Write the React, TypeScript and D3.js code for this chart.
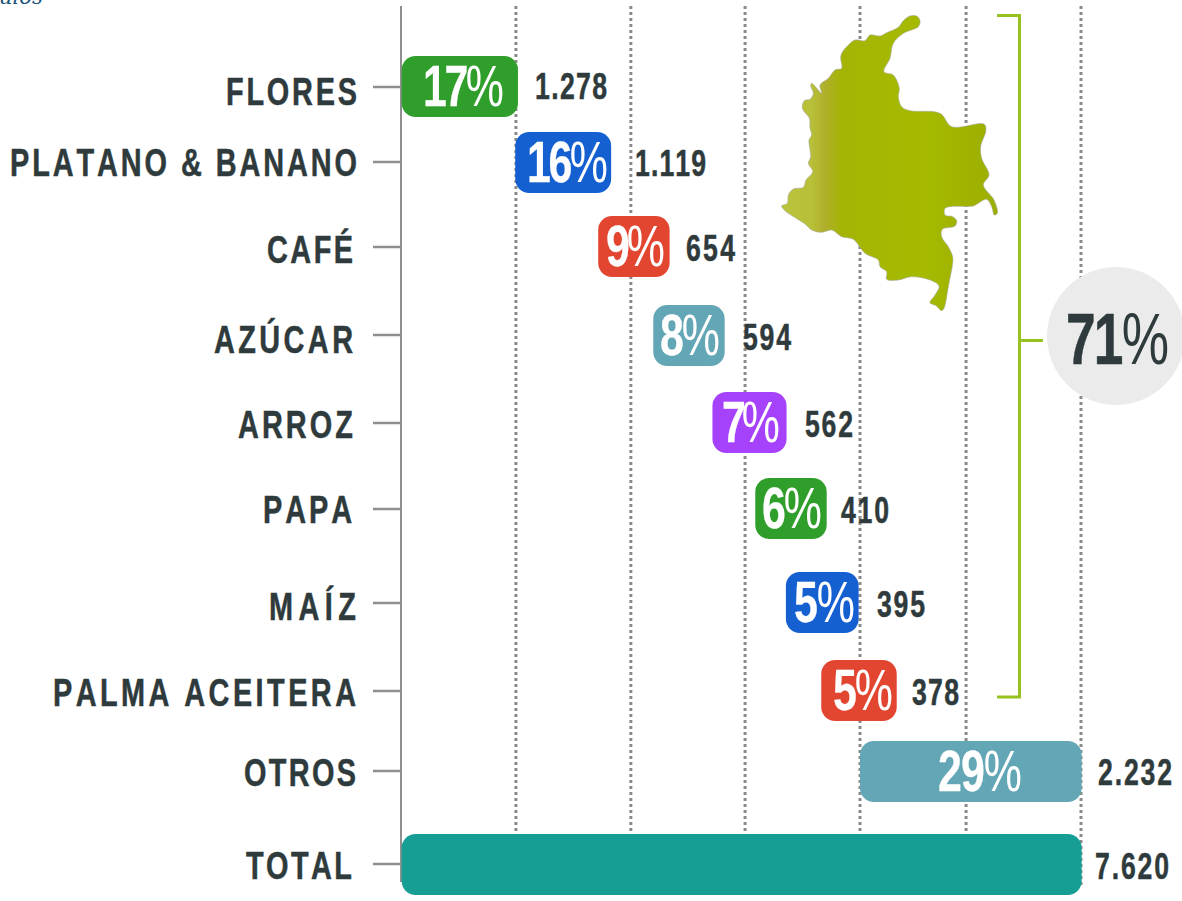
import React from "react";
import * as d3 from "d3";

// ---------- data ----------
const categories = ["FLORES", "PLATANO & BANANO", "CAFÉ", "AZÚCAR", "ARROZ", "PAPA", "MAÍZ", "PALMA ACEITERA", "OTROS", "TOTAL"];
const valueLabels = ["1.278", "1.119", "654", "594", "562", "410", "395", "378", "2.232", "7.620"];
const shareLabels = ["17%", "16%", "9%", "8%", "7%", "6%", "5%", "5%", "29%", ""];
// bar extents, in percent of the total
const barStart = [0.1, 16.8, 29, 37.1, 45.8, 52.1, 56.6, 61.8, 67.5, 0.1];
const barEnd = [17.2, 30.9, 39.5, 47.6, 56.7, 62.6, 67.3, 72.9, 100.1, 100.1];
const gridTicks = [16.9, 33.8, 50.6, 67.5, 83.1, 100];
const groupShare = "71%";

// ---------- styling and layout ----------
const barColors = ["#2f9e2a", "#1560d0", "#e24530", "#63a6b5", "#a742fc", "#2f9e2a", "#1560d0", "#e24530", "#63a6b5", "#169e95"];
const rowCenters = [87, 162, 247, 335, 423, 509, 603, 691, 771, 864];
const labelMid = [91, 162, 249, 339, 424, 509, 606, 692, 772, 865];
const labelLeft = [226, 10, 267, 214, 238, 263, 269, 53, 244, 246];
const labelRight = [357, 357, 353, 353, 353, 352, 356, 356, 356, 352];
const barTop = [56, 132, 216, 305, 392, 478, 572, 660, 741, 834];
const shareLeft = [423, 527, 606, 660, 722, 762, 794, 833, 938, 0];
const shareRight = [504, 608, 665, 720, 780, 822, 855, 893, 1022, 0];
const valueLeft = [535, 635, 686, 743, 805, 841, 877, 912, 1098, 1095];
const valueRight = [607, 706, 735, 791, 853, 889, 925, 959, 1172, 1169];
const valueMid = [86, 163, 248, 337, 424, 510, 604, 692, 772, 866];
const DARK = "#2e3a3b";
const FONT = "'Liberation Sans Narrow', 'Liberation Sans', sans-serif";

// outline of the map, in picture units of a 3x frame
const mapOutline: [number, number][] = [
  [450, 62], [440, 48], [420, 48], [400, 62], [385, 82], [350, 98], [330, 108], [300, 105], [285, 122], [255, 120],
  [235, 135], [215, 160], [212, 175], [215, 205], [195, 210], [175, 235], [150, 255], [155, 280], [125, 250], [122, 258],
  [130, 280], [120, 298], [103, 302], [97, 325], [118, 355], [120, 385], [125, 405], [117, 420], [122, 470], [115, 490],
  [128, 515], [108, 540], [100, 562], [70, 567], [55, 585], [52, 610], [35, 618], [45, 632], [105, 672], [125, 690],
  [155, 697], [185, 690], [215, 710], [250, 718], [285, 760], [325, 780], [330, 800], [350, 815], [350, 838], [385, 840],
  [425, 830], [480, 840], [507, 858], [495, 885], [480, 908], [498, 917], [515, 932], [522, 925], [535, 860], [548, 790], [548, 770], [535, 740], [515, 710], [517, 688],
  [555, 678], [560, 662], [548, 650], [525, 645], [525, 625], [540, 620], [610, 618], [620, 613], [650, 598], [665, 620],
  [673, 645], [682, 640], [672, 600], [640, 555], [657, 525], [635, 475], [632, 440], [648, 390], [642, 372], [545, 380],
  [510, 340], [420, 332], [395, 320], [385, 290], [388, 265], [370, 225], [342, 215], [360, 175], [370, 130], [400, 100],
  [445, 80],
];

const x = d3.scaleLinear().domain([0, 100]).range([401, 1081]);
const y = d3.scaleOrdinal<string, number>().domain(categories).range(rowCenters);
const mapX = d3.scaleLinear().domain([0, 240 * 3]).range([770, 1010]);
const mapY = d3.scaleLinear().domain([0, 320 * 3]).range([0, 320]);
const mapPath = d3.line<[number, number]>().x((d) => mapX(d[0])).y((d) => mapY(d[1])).curve(d3.curveCatmullRomClosed.alpha(0.5))(mapOutline) ?? "";

// Condensed text: glyphs are squeezed by `squeeze` and spaced out to fill left..right
function Fit({ left, right, mid, size, fill, text, squeeze = 0.76, bold = 0.5 }: any) {
  const isShare = text.endsWith("%");
  return (
    <text
      transform={`translate(${left},${mid + size * 0.36}) scale(${squeeze},1)`}
      x={0}
      y={0}
      textLength={(right - left) / squeeze}
      lengthAdjust="spacing"
      fontFamily={FONT}
      fontWeight={700}
      fontSize={size}
      fill={fill}
      stroke={fill}
      strokeWidth={bold}
      style={{ fontKerning: "none" }}
    >
      {isShare ? text.slice(0, -1) : text}
      {isShare && <tspan fontWeight={400} strokeWidth={0}>%</tspan>}
    </text>
  );
}

export default function App() {
  return (
    <svg
      width={1182}
      height={901}
      viewBox="0 0 1182 901"
      style={{ position: "absolute", left: 0, top: 0, background: "#fff" }}
    >
      <defs>
        <linearGradient id="mapFill" gradientUnits="userSpaceOnUse" x1={781} x2={998} y1={0} y2={0}>
          <stop offset="0" stopColor="#b9c53c" />
          <stop offset="0.14" stopColor="#b8bf38" />
          <stop offset="0.2" stopColor="#afb02c" />
          <stop offset="0.28" stopColor="#a4b404" />
          <stop offset="0.65" stopColor="#a5ba00" />
          <stop offset="1" stopColor="#9cae00" />
        </linearGradient>
      </defs>

      <text x={-1} y={4} fontFamily="'DejaVu Serif', serif" fontStyle="italic" fontSize={21} fill="#15537a">
        ulos
      </text>

      {gridTicks.map((t) => (
        <line key={t} x1={x(t)} x2={x(t)} y1={6} y2={t === 100 ? 886 : 836} stroke="#8a8a8a" strokeWidth={3} strokeDasharray="3 3" />
      ))}
      <line x1={x(0)} x2={x(0)} y1={6} y2={882} stroke="#8f8f8f" strokeWidth={2} />

      <path d={mapPath} fill="url(#mapFill)" stroke="#a9a9a0" strokeWidth={0.6} />

      {categories.map((c, i) => (
        <g key={c}>
          <line x1={373} x2={x(0)} y1={y(c)} y2={y(c)} stroke="#8f8f8f" strokeWidth={2.5} />
          <Fit left={labelLeft[i]} right={labelRight[i]} mid={labelMid[i]} size={38} fill={DARK} text={c} />
          <rect
            x={x(barStart[i])}
            y={barTop[i]}
            width={x(barEnd[i]) - x(barStart[i])}
            height={61}
            rx={14}
            fill={barColors[i]}
          />
          {shareLabels[i] && (
            <Fit left={shareLeft[i]} right={shareRight[i]} mid={barTop[i] + 29} size={58} fill="#fff" squeeze={0.74} bold={0.3} text={shareLabels[i]} />
          )}
          <Fit left={valueLeft[i]} right={valueRight[i]} mid={valueMid[i]} size={37} fill={DARK} squeeze={0.72} text={valueLabels[i]} />
        </g>
      ))}

      <path d="M997,15.5H1019.5V697H997M1019.5,340.5H1043" fill="none" stroke="#97c11f" strokeWidth={3} />
      <circle cx={1116} cy={336} r={69} fill="#ebebeb" />
      <Fit left={1066} right={1169} mid={338} size={72} fill={DARK} squeeze={0.74} bold={0.6} text={groupShare} />
    </svg>
  );
}
